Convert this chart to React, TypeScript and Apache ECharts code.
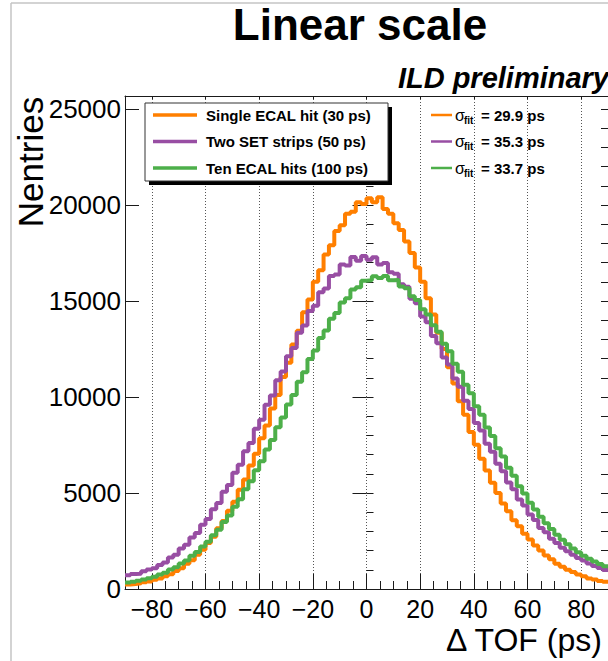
import React, { useEffect, useRef } from 'react';
import * as echarts from 'echarts';

// ---------------- data ----------------
const binLow = -90; // ps, lower edge of the first bin
const binWidth = 2; // ps

const seriesNames = ['Single ECAL hit (30 ps)', 'Two SET strips (50 ps)', 'Ten ECAL hits (100 ps)'];
const seriesColors = ['#ff7f00', '#984ea3', '#4daf4a'];
const sigmaFit = [29.9, 35.3, 33.7];

// entries per bin, bins from -90 to 90 ps
const singleEcalHit = [
  230, 265, 295, 350, 395, 480, 550, 670, 770, 940,
  1080, 1310, 1500, 1790, 2040, 2400, 2720, 3160, 3540, 4080,
  4540, 5170, 5710, 6430, 7040, 7850, 8520, 9400, 10110, 11040,
  11780, 12740, 13450, 14420, 15080, 16000, 16600, 17420, 17900, 18650,
  18950, 19550, 19650, 20150, 20050,
  20350, 20150, 20400, 19800, 19550, 19050, 18700, 18100, 17500, 16750,
  16000, 15150, 14300, 13350, 12500, 11550, 10700, 9780, 9080, 8180,
  7520, 6780, 6170, 5530, 5000, 4460, 4050, 3580, 3270, 2880,
  2580, 2260, 2010, 1740, 1550, 1320, 1160, 1000, 880, 750,
  660, 550, 500, 420, 380,
];
const twoSetStrips = [
  720, 780, 800, 920, 1010, 1080, 1250, 1380, 1640, 1790,
  2110, 2300, 2680, 2920, 3350, 3640, 4150, 4480, 5060, 5420,
  6060, 6470, 7180, 7610, 8350, 8820, 9600, 10080, 10880, 11330,
  12130, 12560, 13350, 13720, 14480, 14760, 15460, 15650, 16300, 16380,
  16900, 16850, 17300, 17100,
  17350, 17150, 17280, 16900, 16980, 16500, 16420, 15880, 15750, 15120,
  14880, 14200, 13900, 13180, 12800, 12060, 11700, 10960, 10540, 9800,
  9380, 8650, 8250, 7560, 7150, 6520, 6130, 5550, 5200, 4660,
  4350, 3880, 3600, 3180, 2950, 2620, 2400, 2150, 1960, 1780,
  1620, 1480, 1330, 1200, 1090, 990,
];
const tenEcalHits = [
  340, 380, 430, 490, 560, 640, 750, 850, 1010, 1130,
  1330, 1490, 1730, 1930, 2220, 2460, 2800, 3090, 3490, 3830,
  4290, 4670, 5190, 5610, 6190, 6650, 7270, 7760, 8420, 8930,
  9610, 10110, 10800, 11290, 11980, 12420, 13080, 13460, 14080, 14380,
  14930, 15150, 15600, 15720, 16060, 16080, 16290,
  16200, 16300, 16080, 16090, 15760, 15660, 15250, 15060, 14570, 14300,
  13740, 13400, 12780, 12390, 11730, 11310, 10640, 10200, 9520, 9080,
  8410, 7970, 7330, 6900, 6310, 5900, 5350, 4980, 4490, 4140,
  3760, 3430, 3120, 2830, 2570, 2330, 2110, 1920, 1730, 1570,
  1430, 1300, 1190,
];
const seriesValues = [singleEcalHit, twoSetStrips, tenEcalHits];

// axes
const xMin = -90;
const xMax = 90;
const xMajorMin = -80;
const xMajorMax = 80;
const xMajorStep = 20;
const xMinorStep = 5;
const yMin = 0;
const yMax = 25680;
const yMajorStep = 5000;
const yMinorStep = 1000;

const titleText = 'Linear scale';
const tagText = 'ILD preliminary';
const xTitle = '\u0394 TOF (ps)';
const yTitle = 'Nentries';

// ---------------- layout ----------------
const W = 608;
const H = 661;
const plotLeft = 125;
const plotRight = 608;
const plotTop = 96;
const plotBottom = 589;
const FONT = '"Liberation Sans", Arial, Helvetica, sans-serif';
const AXIS = '#1a1a1a';
const legendRow0 = 115;
const legendRowStep = 26.5;

function toSteps(values: number[]) {
  const pts: number[][] = values.map((v, i) => [binLow + i * binWidth, v]);
  pts.push([binLow + values.length * binWidth, values[values.length - 1]]);
  return pts;
}

function minus(v: number) {
  return String(v).replace('-', '\u2212');
}

export default function App() {
  const ref = useRef<HTMLDivElement>(null);

  useEffect(() => {
    document.body.style.margin = '0';
    if (!ref.current) return;
    const chart = echarts.init(ref.current, null, { renderer: 'svg', width: W, height: H });

    const ppu = (plotRight - plotLeft) / (xMax - xMin);
    const plotH = plotBottom - plotTop;

    const graphic: any[] = [
      // canvas frame
      { type: 'line', z: 0, shape: { x1: 11, y1: 3, x2: 11, y2: H }, style: { stroke: '#c4c4c4', lineWidth: 1.5 } },
      { type: 'line', z: 0, shape: { x1: 11, y1: 3, x2: W, y2: 3 }, style: { stroke: '#c4c4c4', lineWidth: 1.5 } },
      // title
      {
        type: 'text', x: 360, y: 24,
        style: { text: titleText, fontFamily: FONT, fontSize: 44, fontWeight: 'bold', fill: '#000', align: 'center', verticalAlign: 'middle', textAlign: 'center', textVerticalAlign: 'middle' },
      },
      {
        type: 'text', x: 609, y: 78,
        style: { text: tagText, fontFamily: FONT, fontSize: 29, fontWeight: 'bold', fontStyle: 'italic', fill: '#000', align: 'right', verticalAlign: 'middle', textAlign: 'right', textVerticalAlign: 'middle' },
      },
      // axis titles
      {
        type: 'text', x: 30, y: 162, rotation: Math.PI / 2,
        style: { text: yTitle, fontFamily: FONT, fontSize: 35, fill: '#000', align: 'center', verticalAlign: 'middle', textAlign: 'center', textVerticalAlign: 'middle' },
      },
      {
        type: 'text', x: 446, y: 640,
        style: { text: xTitle, fontFamily: FONT, fontSize: 32, fill: '#000', align: 'left', verticalAlign: 'middle', textAlign: 'left', textVerticalAlign: 'middle' },
      },
      // legend box with shadow
      { type: 'rect', z: 5, shape: { x: 149, y: 107, width: 243, height: 78 }, style: { fill: '#000' } },
      { type: 'rect', z: 5, shape: { x: 145, y: 103, width: 243, height: 78 }, style: { fill: '#fff', stroke: '#333', lineWidth: 1 } },
    ];

    sigmaFit.forEach((s, i) => {
      const y = legendRow0 + i * legendRowStep;
      graphic.push(
        { type: 'line', z: 6, shape: { x1: 431, y1: y, x2: 452, y2: y }, style: { stroke: seriesColors[i], lineWidth: 2.5 } },
        { type: 'text', z: 6, x: 455, y: y, style: { text: '\u03c3', fontFamily: FONT, fontSize: 16, fill: '#000', align: 'left', verticalAlign: 'middle', textAlign: 'left', textVerticalAlign: 'middle' } },
        { type: 'text', z: 6, x: 464, y: y + 5, style: { text: 'fit', fontFamily: FONT, fontSize: 10, fontWeight: 'bold', fill: '#000', align: 'left', verticalAlign: 'middle', textAlign: 'left', textVerticalAlign: 'middle' } },
        { type: 'text', z: 6, x: 481, y: y, style: { text: '= ' + s.toFixed(1) + ' ps', fontFamily: FONT, fontSize: 15, fontWeight: 'bold', fill: '#000', align: 'left', verticalAlign: 'middle', textAlign: 'left', textVerticalAlign: 'middle' } },
      );
    });

    const tickStyle = { color: AXIS, width: 1 };

    const option: any = {
      animation: false,
      backgroundColor: '#fff',
      textStyle: { fontFamily: FONT },
      grid: [
        { left: plotLeft, top: plotTop, width: plotRight - plotLeft, height: plotH, containLabel: false },
        {
          left: plotLeft + (xMajorMin - xMin) * ppu,
          top: plotTop,
          width: (xMajorMax - xMajorMin) * ppu,
          height: plotH,
          containLabel: false,
        },
      ],
      xAxis: [
        {
          gridIndex: 0, type: 'value', min: xMin, max: xMax, interval: xMinorStep, position: 'bottom',
          axisLine: { show: true, onZero: false, lineStyle: { color: AXIS, width: 1 } },
          axisTick: { show: true, inside: true, length: 8, lineStyle: tickStyle },
          axisLabel: { show: false }, splitLine: { show: false },
        },
        {
          gridIndex: 0, type: 'value', min: xMin, max: xMax, interval: xMinorStep, position: 'top',
          axisLine: { show: true, onZero: false, lineStyle: { color: AXIS, width: 1 } },
          axisTick: { show: false }, axisLabel: { show: false }, splitLine: { show: false },
        },
        {
          gridIndex: 1, type: 'value', min: xMajorMin, max: xMajorMax, interval: xMajorStep, position: 'bottom',
          axisLine: { show: false, onZero: false },
          axisTick: { show: true, inside: true, length: 15, lineStyle: tickStyle },
          axisLabel: {
            show: true, margin: 7, fontSize: 25, color: '#000', fontFamily: FONT,
            showMinLabel: true, showMaxLabel: true, formatter: (v: number) => minus(v),
          },
          splitLine: { show: true, lineStyle: { color: '#555', width: 1, type: [1, 2] } },
        },
        {
          gridIndex: 1, type: 'value', min: xMajorMin, max: xMajorMax, interval: xMajorStep, position: 'top',
          axisLine: { show: false, onZero: false },
          axisTick: { show: true, inside: true, length: 3, lineStyle: tickStyle },
          axisLabel: { show: false }, splitLine: { show: false },
        },
      ],
      yAxis: [
        {
          gridIndex: 0, type: 'value', min: yMin, max: yMax, interval: yMajorStep, position: 'left',
          axisLine: { show: true, onZero: false, lineStyle: { color: AXIS, width: 1 } },
          axisTick: { show: true, inside: true, length: 14, lineStyle: tickStyle },
          axisLabel: {
            show: true, margin: 4, fontSize: 26, color: '#000', fontFamily: FONT,
            showMinLabel: true, showMaxLabel: false,
            formatter: (v: number) => (v % yMajorStep === 0 ? String(v) : ''),
          },
          splitLine: { show: false },
        },
        {
          gridIndex: 0, type: 'value', min: yMin, max: yMax, interval: yMinorStep, position: 'left',
          axisLine: { show: false },
          axisTick: { show: true, inside: true, length: 7, lineStyle: tickStyle },
          axisLabel: { show: false }, splitLine: { show: false },
        },
        {
          gridIndex: 0, type: 'value', min: yMin, max: yMax, interval: yMajorStep, position: 'right',
          axisLine: { show: false },
          axisTick: { show: true, inside: true, length: 14, lineStyle: tickStyle },
          axisLabel: { show: false }, splitLine: { show: false },
        },
        {
          gridIndex: 0, type: 'value', min: yMin, max: yMax, interval: yMinorStep, position: 'right',
          axisLine: { show: false },
          axisTick: { show: true, inside: true, length: 7, lineStyle: tickStyle },
          axisLabel: { show: false }, splitLine: { show: false },
        },
        { gridIndex: 1, type: 'value', min: yMin, max: yMax, show: false },
      ],
      legend: {
        orient: 'vertical', left: 153, top: legendRow0 - 7.5, padding: 0,
        itemWidth: 44, itemHeight: 3.5, itemGap: legendRowStep - 15,
        icon: 'rect', selectedMode: false, z: 10,
        textStyle: { fontSize: 15, fontWeight: 'bold', color: '#000', fontFamily: FONT, padding: [0, 0, 0, 4] },
        data: seriesNames,
      },
      graphic,
      series: seriesValues.map((vals, i) => ({
        name: seriesNames[i],
        type: 'line',
        xAxisIndex: 0,
        yAxisIndex: 0,
        step: 'end',
        data: toSteps(vals),
        showSymbol: false,
        symbol: 'none',
        clip: true,
        z: 2 + i,
        color: seriesColors[i],
        lineStyle: { color: seriesColors[i], width: 4 },
        itemStyle: { color: seriesColors[i] },
      })),
    };

    chart.setOption(option);
    return () => chart.dispose();
  }, []);

  return <div ref={ref} style={{ width: W, height: H }} />;
}
